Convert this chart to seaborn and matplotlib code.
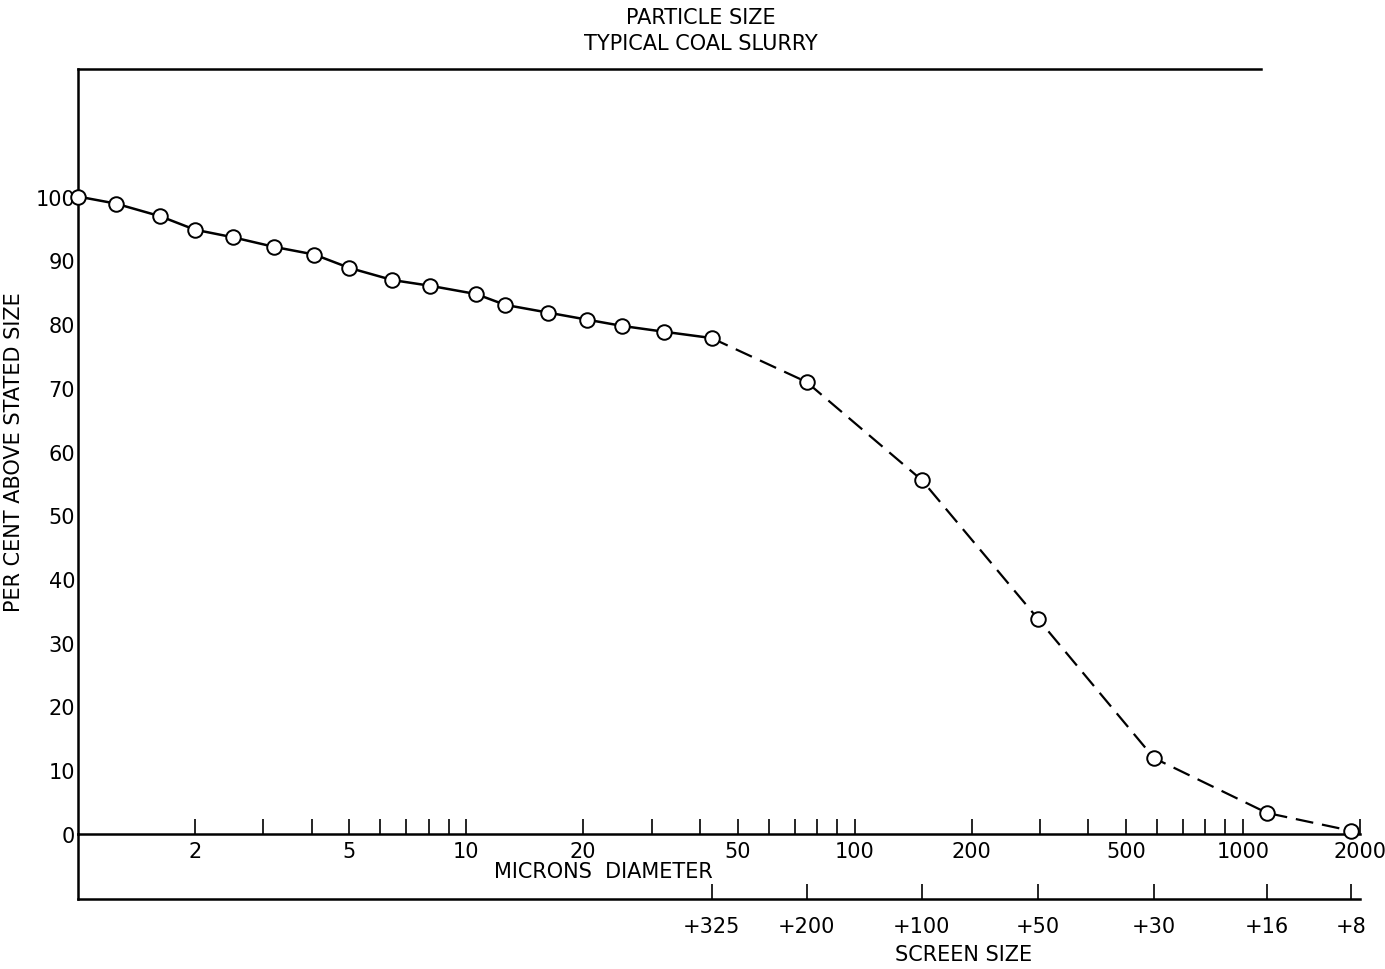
import matplotlib
matplotlib.use("Agg")
import matplotlib.pyplot as plt
import matplotlib.ticker as mticker
import pandas as pd
import seaborn as sns

# particle size data (microns vs per cent above stated size)
microns = [1.0, 1.25, 1.63, 2.0, 2.51, 3.2, 4.06, 5.0, 6.45, 8.07, 10.6, 12.6,
           16.2, 20.4, 25.2, 32.2, 42.8, 75.2, 149, 296, 590, 1153, 1898]
pct_above = [100, 98.9, 96.9, 94.8, 93.6, 92.1, 90.9, 88.8, 86.9, 86.0, 84.7, 83.0,
             81.8, 80.7, 79.7, 78.8, 77.8, 70.9, 55.5, 33.8, 11.9, 3.3, 0.5]
n_measured = 17  # points joined with solid line; the rest dashed

micron_ticks = [2, 5, 10, 20, 50, 100, 200, 500, 1000, 2000]
micron_minor = [m * 10 ** e for e in range(4) for m in range(2, 10) if m * 10 ** e < 2000]
screen_microns = [42.8, 75.2, 149, 296, 590, 1153, 1898]
screen_labels = ["+325", "+200", "+100", "+50", "+30", "+16", "+8"]
yticks = list(range(0, 101, 10))

df = pd.DataFrame({"microns": microns, "pct": pct_above})
solid = df.iloc[:n_measured]
dashed = df.iloc[n_measured - 1:]

sns.set_style("white")
plt.rcParams["font.family"] = ["DejaVu Sans"]
plt.rcParams["text.color"] = "black"
plt.rcParams["axes.labelcolor"] = "black"
plt.rcParams["xtick.color"] = "black"
plt.rcParams["ytick.color"] = "black"

fig = plt.figure(figsize=(13.85, 9.70), dpi=100)
ax2 = fig.add_axes([0.0563, 0.0722, 0.9256, 0.0670])
ax = fig.add_axes([0.0563, 0.1392, 0.9256, 0.7886])
ax.patch.set_alpha(0)
ax2.patch.set_alpha(0)

sns.lineplot(data=solid, x="microns", y="pct", color="black", linewidth=1.8, ax=ax)
sns.lineplot(data=dashed, x="microns", y="pct", color="black", linewidth=1.6, ax=ax,
             linestyle=(0, (8, 4)))
sns.scatterplot(data=df, x="microns", y="pct", s=110, facecolor="white",
                edgecolor="black", linewidth=1.4, ax=ax, zorder=5, clip_on=False)

ax.set_xscale("log")
ax.set_xlim(1, 2000)
ax.set_ylim(0, 120)

ax.set_yticks(yticks)
ax.set_yticklabels([str(v) for v in yticks], fontsize=15)
ax.tick_params(axis="y", length=0, pad=2)

ax.xaxis.set_major_locator(mticker.FixedLocator(micron_ticks))
ax.xaxis.set_major_formatter(mticker.FixedFormatter([str(v) for v in micron_ticks]))
ax.xaxis.set_minor_locator(mticker.FixedLocator(micron_minor))
ax.xaxis.set_minor_formatter(mticker.NullFormatter())
ax.tick_params(axis="x", which="both", bottom=True, direction="in", length=11,
               width=1.2, labelsize=15, pad=5)

ax.set_xlabel("")
ax.set_ylabel("PER CENT ABOVE STATED SIZE", fontsize=15, labelpad=8)

for s in ["left", "bottom", "top"]:
    ax.spines[s].set_color("black")
    ax.spines[s].set_linewidth(1.8)
ax.spines["right"].set_visible(False)
ax.spines["top"].set_bounds(1, 1110)

ax.text(0.410, -0.048, "MICRONS  DIAMETER", transform=ax.transAxes,
        ha="center", va="center", fontsize=15)

# screen size scale
ax2.set_xscale("log")
ax2.set_xlim(1, 2000)
ax2.set_ylim(0, 1)
ax2.set_yticks([])
ax2.set_xticks(screen_microns)
ax2.set_xticklabels(screen_labels, fontsize=15)
ax2.xaxis.set_minor_locator(mticker.NullLocator())
ax2.tick_params(axis="x", which="major", bottom=True, direction="in", length=11,
                width=1.2, pad=12)
for s in ["left", "bottom"]:
    ax2.spines[s].set_color("black")
    ax2.spines[s].set_linewidth(1.8)
ax2.spines["top"].set_visible(False)
ax2.spines["right"].set_visible(False)
ax2.set_xlabel("SCREEN SIZE", fontsize=15)
ax2.xaxis.set_label_coords(0.691, -0.70)

fig.text(0.506, 0.981, "PARTICLE SIZE", ha="center", va="center", fontsize=15)
fig.text(0.506, 0.955, "TYPICAL COAL SLURRY", ha="center", va="center", fontsize=15)

fig.savefig("out.png", dpi=100)
